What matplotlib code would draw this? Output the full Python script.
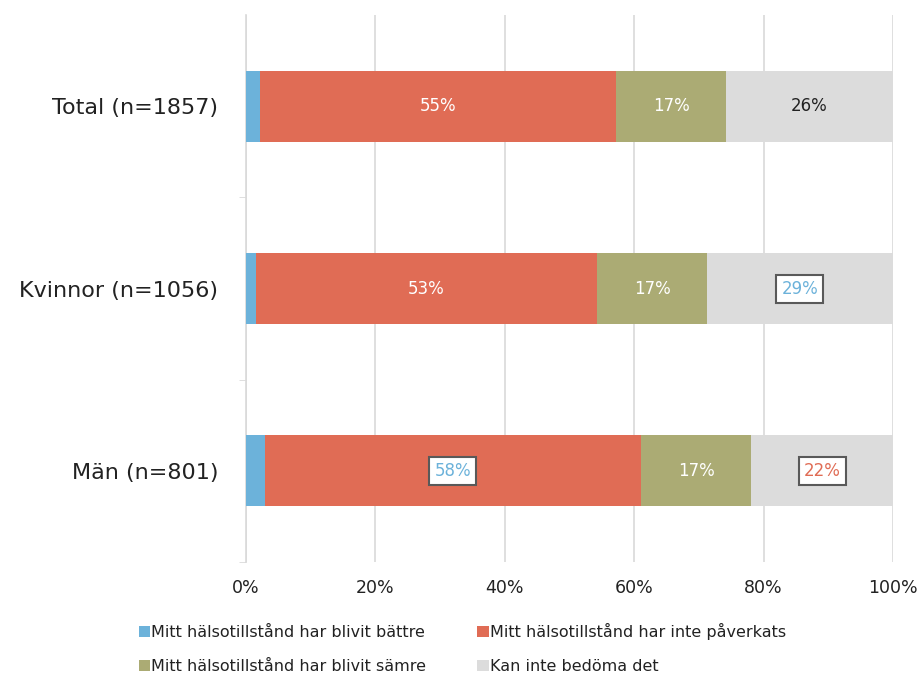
import matplotlib.pyplot as plt
import numpy as np

plt.rcParams['font.family'] = ['DejaVu Sans']

categories = ["Total (n=1857)", "Kvinnor (n=1056)", "Män (n=801)"]
series = ["Mitt hälsotillstånd har blivit bättre",
          "Mitt hälsotillstånd har inte påverkats",
          "Mitt hälsotillstånd har blivit sämre",
          "Kan inte bedöma det"]
battre = [2.2, 1.5, 2.9]
inte_paverkats = [55.0, 52.8, 58.1]
samre = [17.0, 16.9, 17.1]
kan_inte = [25.8, 28.8, 21.9]
colors = ["#6CB2DA", "#E06C55", "#ABAB74", "#DCDCDC"]

values = [battre, inte_paverkats, samre, kan_inte]

fig = plt.figure(figsize=(9.2, 6.74), dpi=100)
ax = fig.add_axes([0.2674, 0.1662, 0.7033, 0.8115])

y = np.arange(len(categories))
left = np.zeros(len(categories))
handles = []
for vals, col, name in zip(values, colors, series):
    h = ax.barh(y, vals, left=left, height=0.39, color=col, label=name, zorder=3)
    handles.append(h)
    left += np.array(vals)

# data labels (Excel-style, some boxed)
label_style = {
    (1, 0): dict(color="white"), (1, 1): dict(color="white"), (1, 2): dict(color="#6CB2DA", box=True),
    (2, 0): dict(color="white"), (2, 1): dict(color="white"), (2, 2): dict(color="white"),
    (3, 0): dict(color="#222222"), (3, 1): dict(color="#6CB2DA", box=True), (3, 2): dict(color="#E06C55", box=True),
}
starts = np.zeros(len(categories))
for si, vals in enumerate(values):
    for ci, v in enumerate(vals):
        if si > 0:
            st = label_style[(si, ci)]
            bbox = None
            if st.get("box"):
                bbox = dict(boxstyle="square,pad=0.3", fc="white", ec="#595959", lw=1.5)
            ax.text(starts[ci] + v / 2, ci, f"{round(v):.0f}%", ha="center", va="center",
                    fontsize=12, color=st["color"], bbox=bbox, zorder=5)
    starts += np.array(vals)

ax.set_xlim(0, 100)
ax.set_ylim(2.5, -0.5)
ax.set_xticks(np.arange(0, 101, 20))
ax.set_xticklabels([f"{t}%" for t in range(0, 101, 20)], fontsize=12.5, color="#222222")
ax.set_yticks(y)
ax.set_yticklabels(categories, fontsize=16, color="#222222")
ax.set_yticks([0.5, 1.5, 2.5], minor=True)
ax.tick_params(axis="y", which="major", length=0, pad=20)
ax.tick_params(axis="y", which="minor", length=5, color="#D9D9D9")
ax.tick_params(axis="x", length=0, pad=12)
ax.grid(axis="x", color="#D9D9D9", lw=1.2, zorder=0)
for s in ["top", "right", "bottom"]:
    ax.spines[s].set_visible(False)
ax.spines["left"].set_color("#D9D9D9")
ax.spines["left"].set_linewidth(1.2)

# row-wise legend order like the original
order = [0, 2, 1, 3]
fig.legend([handles[i] for i in order], [series[i] for i in order],
           loc="lower left", bbox_to_anchor=(0.135, -0.022), ncol=2, frameon=False,
           fontsize=11.5, handlelength=0.7, handleheight=0.7, handletextpad=0.1,
           columnspacing=3.2, labelspacing=1.2, labelcolor="#222222")

fig.savefig("out.png", dpi=100)
